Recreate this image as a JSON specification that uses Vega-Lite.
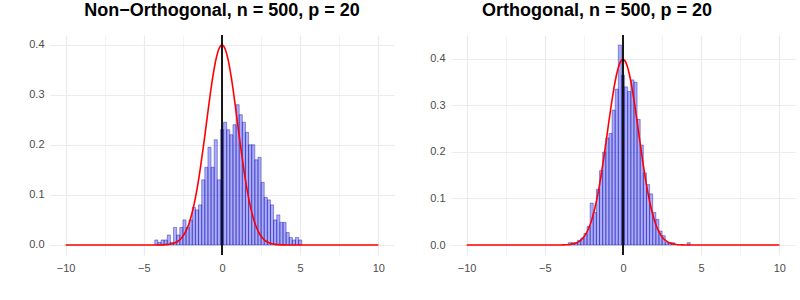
{
  "$schema": "https://vega.github.io/schema/vega-lite/v6.json",
  "background": "white",
  "padding": {"left": 28, "top": 2, "right": 6, "bottom": 0},
  "config": {
    "font": "Liberation Sans",
    "view": {"stroke": null},
    "axis": {"domain": false, "ticks": false, "labelColor": "#4D4D4D", "labelFontSize": 11, "gridColor": "#EBEBEB", "title": null, "labelPadding": 6, "labelOverlap": false, "labelFlush": false},
    "title": {"fontSize": 18, "fontWeight": "bold", "color": "#000000", "anchor": "middle", "offset": 14},
    "concat": {"spacing": 35}
  },
  "datasets": {
    "nonorth": [
      {"bin_start": -4.3, "bin_end": -4.1, "density": 0.01},
      {"bin_start": -4.1, "bin_end": -3.9, "density": 0.005},
      {"bin_start": -3.9, "bin_end": -3.7, "density": 0.01},
      {"bin_start": -3.7, "bin_end": -3.5, "density": 0.01},
      {"bin_start": -3.5, "bin_end": -3.3, "density": 0.02},
      {"bin_start": -3.3, "bin_end": -3.1, "density": 0.005},
      {"bin_start": -3.1, "bin_end": -2.9, "density": 0.035},
      {"bin_start": -2.9, "bin_end": -2.7, "density": 0.02},
      {"bin_start": -2.7, "bin_end": -2.5, "density": 0.035},
      {"bin_start": -2.5, "bin_end": -2.3, "density": 0.05},
      {"bin_start": -2.3, "bin_end": -2.1, "density": 0.035},
      {"bin_start": -2.1, "bin_end": -1.9, "density": 0.05},
      {"bin_start": -1.9, "bin_end": -1.7, "density": 0.075},
      {"bin_start": -1.7, "bin_end": -1.5, "density": 0.07},
      {"bin_start": -1.5, "bin_end": -1.3, "density": 0.08},
      {"bin_start": -1.3, "bin_end": -1.1, "density": 0.13},
      {"bin_start": -1.1, "bin_end": -0.9, "density": 0.155},
      {"bin_start": -0.9, "bin_end": -0.7, "density": 0.195},
      {"bin_start": -0.7, "bin_end": -0.5, "density": 0.155},
      {"bin_start": -0.5, "bin_end": -0.3, "density": 0.21},
      {"bin_start": -0.3, "bin_end": -0.1, "density": 0.13},
      {"bin_start": -0.1, "bin_end": 0.1, "density": 0.23},
      {"bin_start": 0.1, "bin_end": 0.3, "density": 0.245},
      {"bin_start": 0.3, "bin_end": 0.5, "density": 0.23},
      {"bin_start": 0.5, "bin_end": 0.7, "density": 0.22},
      {"bin_start": 0.7, "bin_end": 0.9, "density": 0.24},
      {"bin_start": 0.9, "bin_end": 1.1, "density": 0.28},
      {"bin_start": 1.1, "bin_end": 1.3, "density": 0.26},
      {"bin_start": 1.3, "bin_end": 1.5, "density": 0.245},
      {"bin_start": 1.5, "bin_end": 1.7, "density": 0.225},
      {"bin_start": 1.7, "bin_end": 1.9, "density": 0.2},
      {"bin_start": 1.9, "bin_end": 2.1, "density": 0.2},
      {"bin_start": 2.1, "bin_end": 2.3, "density": 0.17},
      {"bin_start": 2.3, "bin_end": 2.5, "density": 0.175},
      {"bin_start": 2.5, "bin_end": 2.7, "density": 0.125},
      {"bin_start": 2.7, "bin_end": 2.9, "density": 0.095},
      {"bin_start": 2.9, "bin_end": 3.1, "density": 0.09},
      {"bin_start": 3.1, "bin_end": 3.3, "density": 0.08},
      {"bin_start": 3.3, "bin_end": 3.5, "density": 0.05},
      {"bin_start": 3.5, "bin_end": 3.7, "density": 0.06},
      {"bin_start": 3.7, "bin_end": 3.9, "density": 0.045},
      {"bin_start": 3.9, "bin_end": 4.1, "density": 0.045},
      {"bin_start": 4.1, "bin_end": 4.3, "density": 0.025},
      {"bin_start": 4.3, "bin_end": 4.5, "density": 0.015},
      {"bin_start": 4.5, "bin_end": 4.7, "density": 0.01},
      {"bin_start": 4.7, "bin_end": 4.9, "density": 0.015},
      {"bin_start": 4.9, "bin_end": 5.1, "density": 0.01}
    ],
    "orth": [
      {"bin_start": -3.5, "bin_end": -3.3, "density": 0.005},
      {"bin_start": -3.3, "bin_end": -3.1, "density": 0.005},
      {"bin_start": -3.1, "bin_end": -2.9, "density": 0.005},
      {"bin_start": -2.9, "bin_end": -2.7, "density": 0.01},
      {"bin_start": -2.7, "bin_end": -2.5, "density": 0.015},
      {"bin_start": -2.5, "bin_end": -2.3, "density": 0.025},
      {"bin_start": -2.3, "bin_end": -2.1, "density": 0.04},
      {"bin_start": -2.1, "bin_end": -1.9, "density": 0.09},
      {"bin_start": -1.9, "bin_end": -1.7, "density": 0.07},
      {"bin_start": -1.7, "bin_end": -1.5, "density": 0.12},
      {"bin_start": -1.5, "bin_end": -1.3, "density": 0.16},
      {"bin_start": -1.3, "bin_end": -1.1, "density": 0.2},
      {"bin_start": -1.1, "bin_end": -0.9, "density": 0.23},
      {"bin_start": -0.9, "bin_end": -0.7, "density": 0.24},
      {"bin_start": -0.7, "bin_end": -0.5, "density": 0.29},
      {"bin_start": -0.5, "bin_end": -0.3, "density": 0.335},
      {"bin_start": -0.3, "bin_end": -0.1, "density": 0.43},
      {"bin_start": -0.1, "bin_end": 0.1, "density": 0.365},
      {"bin_start": 0.1, "bin_end": 0.3, "density": 0.34},
      {"bin_start": 0.3, "bin_end": 0.5, "density": 0.33},
      {"bin_start": 0.5, "bin_end": 0.7, "density": 0.355},
      {"bin_start": 0.7, "bin_end": 0.9, "density": 0.35},
      {"bin_start": 0.9, "bin_end": 1.1, "density": 0.27},
      {"bin_start": 1.1, "bin_end": 1.3, "density": 0.215},
      {"bin_start": 1.3, "bin_end": 1.5, "density": 0.155},
      {"bin_start": 1.5, "bin_end": 1.7, "density": 0.13},
      {"bin_start": 1.7, "bin_end": 1.9, "density": 0.11},
      {"bin_start": 1.9, "bin_end": 2.1, "density": 0.07},
      {"bin_start": 2.1, "bin_end": 2.3, "density": 0.055},
      {"bin_start": 2.3, "bin_end": 2.5, "density": 0.03},
      {"bin_start": 2.5, "bin_end": 2.7, "density": 0.02},
      {"bin_start": 2.7, "bin_end": 2.9, "density": 0.005},
      {"bin_start": 2.9, "bin_end": 3.1, "density": 0.005},
      {"bin_start": 3.1, "bin_end": 3.3, "density": 0.005},
      {"bin_start": 4.1, "bin_end": 4.3, "density": 0.005}
    ],
    "curve": [
      {"x": -10, "density": 0},
      {"x": -4.4, "density": 0.000025},
      {"x": -4.2, "density": 0.000059},
      {"x": -4.0, "density": 0.000134},
      {"x": -3.8, "density": 0.000292},
      {"x": -3.6, "density": 0.000612},
      {"x": -3.4, "density": 0.001232},
      {"x": -3.2, "density": 0.002384},
      {"x": -3.0, "density": 0.004432},
      {"x": -2.8, "density": 0.007915},
      {"x": -2.6, "density": 0.013583},
      {"x": -2.4, "density": 0.022395},
      {"x": -2.2, "density": 0.035475},
      {"x": -2.0, "density": 0.053991},
      {"x": -1.8, "density": 0.07895},
      {"x": -1.6, "density": 0.110921},
      {"x": -1.4, "density": 0.149727},
      {"x": -1.2, "density": 0.194186},
      {"x": -1.0, "density": 0.241971},
      {"x": -0.9, "density": 0.266085},
      {"x": -0.8, "density": 0.289692},
      {"x": -0.7, "density": 0.312254},
      {"x": -0.6, "density": 0.333225},
      {"x": -0.5, "density": 0.352065},
      {"x": -0.4, "density": 0.36827},
      {"x": -0.3, "density": 0.381388},
      {"x": -0.2, "density": 0.391043},
      {"x": -0.1, "density": 0.396953},
      {"x": 0, "density": 0.398942},
      {"x": 0.1, "density": 0.396953},
      {"x": 0.2, "density": 0.391043},
      {"x": 0.3, "density": 0.381388},
      {"x": 0.4, "density": 0.36827},
      {"x": 0.5, "density": 0.352065},
      {"x": 0.6, "density": 0.333225},
      {"x": 0.7, "density": 0.312254},
      {"x": 0.8, "density": 0.289692},
      {"x": 0.9, "density": 0.266085},
      {"x": 1.0, "density": 0.241971},
      {"x": 1.2, "density": 0.194186},
      {"x": 1.4, "density": 0.149727},
      {"x": 1.6, "density": 0.110921},
      {"x": 1.8, "density": 0.07895},
      {"x": 2.0, "density": 0.053991},
      {"x": 2.2, "density": 0.035475},
      {"x": 2.4, "density": 0.022395},
      {"x": 2.6, "density": 0.013583},
      {"x": 2.8, "density": 0.007915},
      {"x": 3.0, "density": 0.004432},
      {"x": 3.2, "density": 0.002384},
      {"x": 3.4, "density": 0.001232},
      {"x": 3.6, "density": 0.000612},
      {"x": 3.8, "density": 0.000292},
      {"x": 4.0, "density": 0.000134},
      {"x": 4.2, "density": 0.000059},
      {"x": 4.4, "density": 0.000025},
      {"x": 10, "density": 0}
    ],
    "zero": [{"x": 0}]
  },
  "hconcat": [
    {
      "width": 344,
      "height": 220,
      "title": {"text": "Non−Orthogonal, n = 500, p = 20"},
      "layer": [
        {
          "data": {"name": "nonorth"},
          "mark": {"type": "rect", "fill": "#0000FF", "fillOpacity": 0.33, "stroke": "#00008B", "strokeWidth": 0.5, "strokeOpacity": 0.75},
          "encoding": {
            "x": {"field": "bin_start", "type": "quantitative", "scale": {"domain": [-11, 11], "nice": false, "zero": false},
              "axis": {"values": [-10, -7.5, -5, -2.5, 0, 2.5, 5, 7.5, 10], "format": "d", "labelExpr": "datum.value % 5 == 0 ? datum.label : ''", "gridWidth": {"condition": {"test": "datum.value % 5 != 0", "value": 0.6}, "value": 1.2}, "labelPadding": 7}},
            "x2": {"field": "bin_end"},
            "y": {"field": "density", "type": "quantitative", "scale": {"domain": [-0.02, 0.419], "nice": false, "zero": false},
              "axis": {"values": [0, 0.05, 0.1, 0.15, 0.2, 0.25, 0.3, 0.35, 0.4], "format": ".1f", "labelExpr": "round(datum.value * 100) % 10 == 0 ? datum.label : ''", "gridWidth": {"condition": {"test": "round(datum.value * 100) % 10 != 0", "value": 0.6}, "value": 1.2}}},
            "y2": {"datum": 0}
          }
        },
        {
          "data": {"name": "curve"},
          "mark": {"type": "line", "color": "#FF0000", "strokeWidth": 1.6, "interpolate": "monotone"},
          "encoding": {
            "x": {"field": "x", "type": "quantitative"},
            "y": {"field": "density", "type": "quantitative"}
          }
        },
        {
          "data": {"name": "zero"},
          "mark": {"type": "rule", "color": "#000000", "strokeWidth": 1.8},
          "encoding": {"x": {"field": "x", "type": "quantitative"}}
        }
      ]
    },
    {
      "width": 344,
      "height": 220,
      "title": {"text": "Orthogonal, n = 500, p = 20", "dx": -26},
      "layer": [
        {
          "data": {"name": "orth"},
          "mark": {"type": "rect", "fill": "#0000FF", "fillOpacity": 0.33, "stroke": "#00008B", "strokeWidth": 0.5, "strokeOpacity": 0.75},
          "encoding": {
            "x": {"field": "bin_start", "type": "quantitative", "scale": {"domain": [-11, 11], "nice": false, "zero": false},
              "axis": {"values": [-10, -7.5, -5, -2.5, 0, 2.5, 5, 7.5, 10], "format": "d", "labelExpr": "datum.value % 5 == 0 ? datum.label : ''", "gridWidth": {"condition": {"test": "datum.value % 5 != 0", "value": 0.6}, "value": 1.2}, "labelPadding": 7}},
            "x2": {"field": "bin_end"},
            "y": {"field": "density", "type": "quantitative", "scale": {"domain": [-0.0215, 0.4515], "nice": false, "zero": false},
              "axis": {"values": [0, 0.05, 0.1, 0.15, 0.2, 0.25, 0.3, 0.35, 0.4, 0.45], "format": ".1f", "labelExpr": "round(datum.value * 100) % 10 == 0 ? datum.label : ''", "gridWidth": {"condition": {"test": "round(datum.value * 100) % 10 != 0", "value": 0.6}, "value": 1.2}}},
            "y2": {"datum": 0}
          }
        },
        {
          "data": {"name": "curve"},
          "mark": {"type": "line", "color": "#FF0000", "strokeWidth": 1.6, "interpolate": "monotone"},
          "encoding": {
            "x": {"field": "x", "type": "quantitative"},
            "y": {"field": "density", "type": "quantitative"}
          }
        },
        {
          "data": {"name": "zero"},
          "mark": {"type": "rule", "color": "#000000", "strokeWidth": 1.8},
          "encoding": {"x": {"field": "x", "type": "quantitative"}}
        }
      ]
    }
  ]
}
